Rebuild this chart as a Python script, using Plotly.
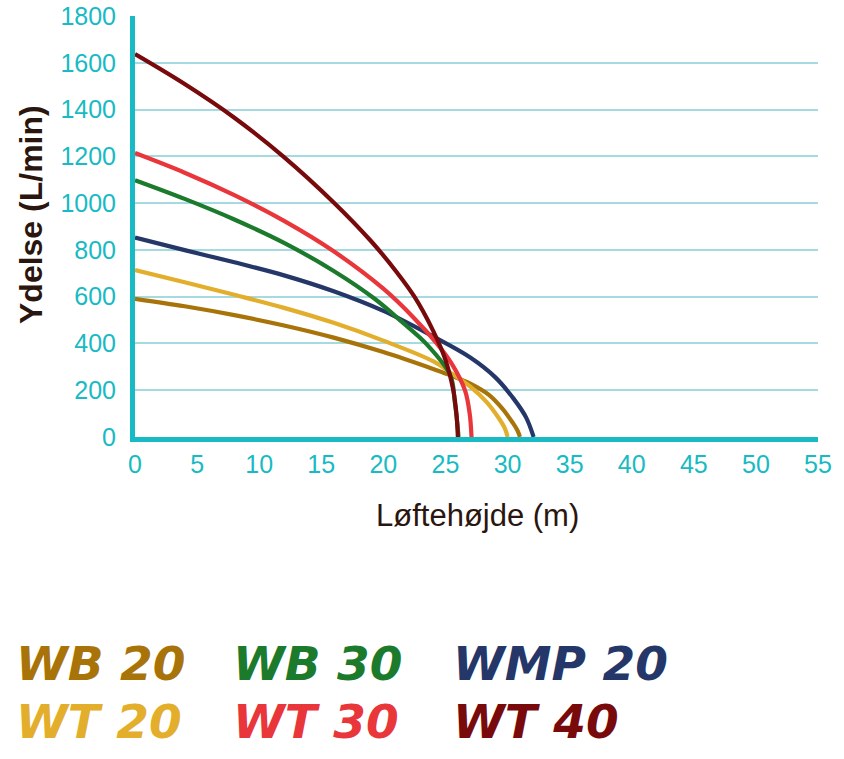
import plotly.graph_objects as go

# ---- data ----
names = ["WB 20", "WT 20", "WMP 20", "WB 30", "WT 30", "WT 40"]
colors = ["#A8740A", "#E2AE2C", "#243768", "#1C7A2C", "#E8363A", "#780A0C"]

wb20_h = [0, 4, 8, 12, 16, 20, 24, 25.5, 27, 28.5, 29.6, 30.4, 30.8, 31.0]
wb20_q = [591, 559, 521, 477, 425, 363, 291, 262, 228, 180, 120, 62, 28, 0]

wt20_h = [0, 4, 8, 12, 16, 20, 24, 25.5, 27, 28.3, 29.3, 29.8, 30.0]
wt20_q = [714, 662, 608, 552, 488, 412, 324, 272, 215, 150, 80, 35, 0]

wmp20_h = [0, 4, 8, 12, 16, 20, 24, 27, 29, 30.5, 31.5, 32.1]
wmp20_q = [853, 799, 747, 691, 623, 539, 430, 340, 256, 163, 83, 0]

wb30_h = [0, 4, 8, 12, 16, 19.3, 21.5, 23.5, 25.4, 25.75, 25.95, 26.05]
wb30_q = [1098, 1018, 930, 830, 710, 591, 492, 396, 263, 150, 60, 0]

wt30_h = [0, 4, 8, 12, 16, 20, 22.5, 24.3, 25.5, 26.57, 26.95, 27.1]
wt30_q = [1214, 1130, 1034, 924, 794, 634, 507, 400, 314, 200, 100, 0]

wt40_h = [0, 4, 8, 12, 16, 19, 21, 22.5, 24, 25, 25.63, 25.9, 26.0]
wt40_q = [1637, 1509, 1365, 1197, 1003, 838, 710, 600, 455, 330, 200, 90, 0]

series_h = [wb20_h, wt20_h, wmp20_h, wb30_h, wt30_h, wt40_h]
series_q = [wb20_q, wt20_q, wmp20_q, wb30_q, wt30_q, wt40_q]

x_ticks = list(range(0, 56, 5))
y_ticks = list(range(0, 1801, 200))

AX = "#18BAC3"
GRID = "#A5DBE0"

fig = go.Figure()
for n, c, h, q in zip(names, colors, series_h, series_q):
    fig.add_trace(go.Scatter(x=h, y=q, mode="lines", name=n,
                             line=dict(color=c, width=4.2, shape="spline", smoothing=1.0),
                             showlegend=False))

tick_font = dict(family="Liberation Sans Narrow, Arial Narrow, sans-serif",
                 size=25, color=AX)

fig.update_xaxes(range=[0, 55], tickvals=x_ticks, showgrid=False, zeroline=False,
                 showline=True, linecolor=AX, linewidth=5, automargin=False,
                 ticks="outside", ticklen=1, tickcolor="rgba(0,0,0,0)",
                 tickfont=tick_font, ticklabeloverflow="allow")
fig.update_yaxes(range=[0, 1800], tickvals=y_ticks, showgrid=True, gridcolor=GRID, gridwidth=1.5,
                 zeroline=False, showline=True, linecolor=AX, linewidth=5, automargin=False,
                 ticks="outside", ticklen=9, tickcolor="rgba(0,0,0,0)",
                 tickfont=tick_font, ticklabeloverflow="allow")

W, H = 844, 759
PL, PR, PT, PB = 135, 818, 16, 437      # plot area in pixels
L, T, R, B = PL, PT, W - PR, H - PB
pw, ph = PR - PL, PB - PT


def px_x(sx):
    return (sx - PL) / pw


def px_y(sy):
    return (PB - sy) / ph


title_col = "#2A160E"
annotations = [
    dict(text="Løftehøjde (m)", x=px_x(477), y=px_y(515), showarrow=False,
         xanchor="center", yanchor="middle",
         font=dict(family="Liberation Sans, Arial, sans-serif", size=31, color=title_col)),
    dict(text="<b>Ydelse (L/min)</b>", x=px_x(31), y=px_y(215), textangle=-90, showarrow=False,
         xanchor="center", yanchor="middle",
         font=dict(family="Liberation Sans, Arial, sans-serif", size=32, color=title_col)),
]

legend_pos = [(14, 663), (14, 721), (451, 663), (231, 663), (231, 721), (451, 721)]
for n, c, (lx, ly) in zip(names, colors, legend_pos):
    annotations.append(dict(text="<b><i>%s</i></b>" % n, x=px_x(lx), y=px_y(ly),
                            xanchor="left", yanchor="middle", showarrow=False,
                            font=dict(family="DejaVu Sans, sans-serif", size=47, color=c)))

for a in annotations:
    a["xref"] = "paper"
    a["yref"] = "paper"

fig.update_layout(width=W, height=H, margin=dict(l=L, r=R, t=T, b=B, pad=0),
                  plot_bgcolor="white", paper_bgcolor="white",
                  annotations=annotations)

fig.write_html("out.html", config={"displayModeBar": False},
               post_script="document.body.style.margin='0px';document.body.style.overflow='hidden';")
